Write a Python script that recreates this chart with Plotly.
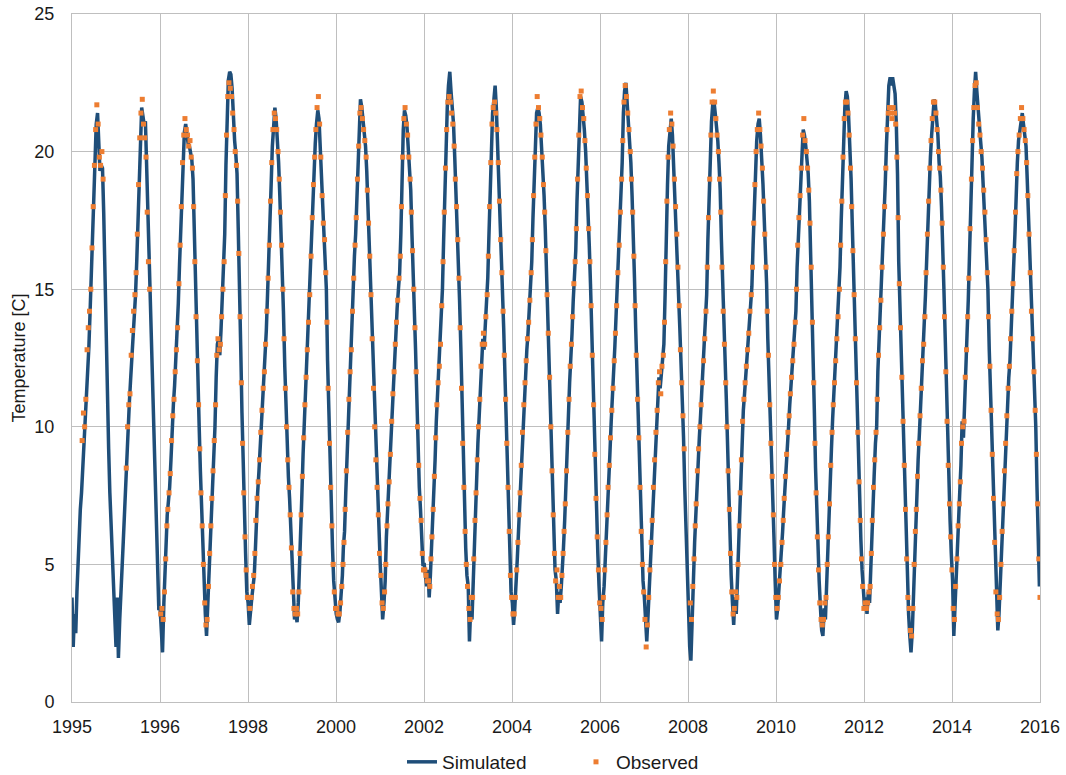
import datetime as dt
import plotly.graph_objects as go

# ---------------- data ----------------
years = list(range(1995, 2017))
sim_days = [1, 11, 21]   # three readings per month for the simulated series
obs_days = [6, 16, 26]   # three readings per month for the observed series

# Simulated temperature [C], 36 values per year (Jan 1, Jan 11, Jan 21, Feb 1, ...)
simulated = [
    # 1995
    3.8, 2.0, 3.2, 2.5, 4.0, 5.3, 6.2, 7.0, 7.6, 8.5, 9.4, 10.4,
    11.2, 12.0, 12.9, 14.3, 15.6, 17.0, 18.3, 19.8, 21.0, 21.4, 20.0, 19.3,
    19.5, 19.4, 17.8, 15.4, 13.2, 11.0, 9.2, 7.6, 6.5, 5.5, 4.2, 2.6,
    # 1996
    2.0, 3.8, 1.6, 3.0, 4.2, 5.0, 5.8, 6.8, 8.0, 9.2, 10.2, 10.9,
    11.7, 12.4, 13.2, 14.0, 14.8, 16.0, 17.6, 19.4, 20.6, 21.6, 21.3, 21.0,
    21.1, 19.5, 17.6, 15.8, 14.2, 12.3, 10.5, 9.2, 7.6, 6.0, 4.4, 3.4,
    # 1997
    3.4, 2.6, 1.8, 3.6, 5.0, 6.2, 6.8, 7.3, 7.8, 8.8, 10.0, 10.8,
    11.5, 12.3, 13.2, 14.5, 15.9, 17.3, 18.8, 20.2, 20.7, 21.0, 20.5, 20.3,
    20.2, 20.0, 19.7, 19.0, 17.0, 14.8, 13.3, 11.6, 10.0, 8.4, 7.0, 5.8,
    # 1998
    4.6, 3.2, 2.4, 3.5, 4.8, 5.9, 6.8, 7.8, 8.9, 10.0, 11.8, 13.0,
    13.2, 12.6, 13.5, 14.6, 15.4, 17.0, 19.5, 21.4, 22.6, 22.9, 22.8, 22.3,
    21.0, 20.4, 19.9, 19.2, 17.2, 15.5, 12.8, 10.5, 8.4, 6.8, 5.4, 4.0,
    # 1999
    3.6, 2.8, 3.4, 3.8, 4.2, 4.6, 5.4, 7.0, 7.6, 8.4, 9.2, 10.2,
    11.0, 11.7, 12.4, 13.5, 14.8, 15.9, 17.4, 18.8, 20.2, 21.1, 21.6, 21.2,
    20.4, 19.6, 18.4, 17.2, 15.8, 14.2, 12.2, 10.6, 9.4, 8.2, 7.4, 6.2,
    # 2000
    4.6, 3.6, 3.0, 3.2, 2.9, 3.6, 4.6, 6.0, 7.4, 9.0, 10.2, 11.4,
    12.3, 13.2, 14.2, 15.5, 16.9, 18.3, 19.4, 20.3, 21.0, 21.5, 21.2, 20.2,
    19.0, 17.6, 17.0, 16.3, 15.0, 12.4, 10.3, 8.6, 7.1, 5.6, 4.4, 3.6,
    # 2001
    3.2, 3.0, 2.9, 3.3, 3.8, 4.6, 5.6, 6.2, 7.6, 9.0, 10.4, 11.6,
    12.4, 13.5, 14.8, 16.2, 17.0, 18.3, 19.6, 20.8, 21.9, 21.6, 21.1, 20.6,
    20.2, 19.3, 18.0, 16.8, 15.6, 14.2, 12.2, 10.8, 9.4, 8.4, 7.4, 6.0,
    # 2002
    5.0, 4.0, 3.0, 3.6, 4.4, 6.0, 6.8, 7.6, 8.4, 9.6, 10.8, 11.6,
    12.5, 13.4, 14.3, 15.0, 15.6, 17.0, 19.0, 20.8, 21.5, 21.3, 20.9, 20.2,
    19.4, 18.6, 17.0, 15.8, 14.2, 12.8, 11.0, 9.2, 7.8, 7.0, 6.0, 5.0,
    # 2003
    5.0, 4.4, 4.2, 4.8, 3.8, 4.6, 5.4, 6.2, 7.3, 8.8, 10.2, 11.2,
    11.8, 12.5, 13.6, 15.0, 16.8, 18.6, 20.2, 21.6, 22.4, 22.9, 22.2, 21.6,
    21.0, 19.8, 18.6, 17.0, 16.2, 14.6, 12.8, 10.7, 8.8, 7.2, 5.6, 4.6,
    # 2004
    4.2, 2.2, 3.4, 3.0, 4.4, 6.0, 7.2, 8.2, 9.4, 10.4, 11.6, 12.6,
    13.2, 12.8, 13.6, 14.2, 15.4, 17.0, 18.8, 20.4, 21.4, 21.9, 22.4, 21.6,
    20.3, 18.9, 17.6, 16.0, 15.0, 13.6, 11.8, 10.2, 8.6, 7.0, 5.4, 4.0,
    # 2005
    3.6, 2.8, 3.4, 4.2, 5.2, 6.2, 7.0, 8.0, 9.2, 10.4, 11.3, 12.0,
    12.8, 13.4, 14.2, 15.0, 16.0, 17.6, 19.2, 20.4, 21.4, 21.6, 21.4, 21.0,
    20.2, 19.4, 18.4, 17.2, 15.6, 14.0, 12.6, 11.0, 9.0, 7.6, 6.0, 4.8,
    # 2006
    4.4, 3.2, 4.0, 3.6, 4.2, 4.8, 5.6, 6.6, 7.6, 9.0, 10.4, 11.6,
    12.4, 13.4, 14.6, 15.6, 16.4, 18.2, 19.8, 21.2, 22.0, 21.8, 21.4, 20.8,
    20.0, 19.0, 17.8, 16.6, 15.2, 13.4, 11.6, 9.8, 8.0, 6.6, 5.4, 4.2,
    # 2007
    3.4, 2.2, 3.6, 4.2, 5.2, 6.4, 7.4, 8.2, 9.0, 10.2, 11.0, 12.0,
    12.9, 14.0, 15.0, 16.2, 17.2, 18.4, 19.6, 21.4, 22.2, 22.5, 21.8, 21.2,
    20.4, 19.6, 18.4, 17.2, 15.4, 13.6, 11.8, 10.4, 8.6, 6.8, 5.4, 4.4,
    # 2008
    3.8, 2.6, 2.2, 3.2, 4.2, 5.2, 6.0, 7.2, 8.3, 9.4, 10.2, 11.0,
    11.8, 11.4, 12.0, 12.4, 13.0, 14.8, 17.2, 18.8, 20.2, 21.0, 21.2, 20.6,
    19.4, 18.5, 17.6, 16.4, 15.3, 13.6, 12.2, 11.2, 9.6, 7.8, 6.2, 4.8,
    # 2009
    3.4, 2.0, 1.5, 3.4, 4.6, 5.8, 6.6, 7.8, 8.7, 9.6, 10.4, 11.2,
    12.0, 12.8, 13.6, 14.8, 16.8, 18.4, 19.8, 21.1, 21.7, 21.8, 21.4, 21.0,
    20.4, 19.6, 18.6, 16.8, 15.0, 13.6, 12.4, 11.0, 9.2, 7.8, 6.2, 4.6,
    # 2010
    3.6, 2.8, 3.8, 3.2, 4.4, 5.8, 7.0, 8.2, 9.6, 10.6, 11.2, 11.8,
    12.4, 13.0, 13.8, 14.6, 15.1, 16.6, 18.2, 19.6, 20.4, 21.0, 21.2, 20.6,
    19.8, 18.8, 17.6, 16.6, 15.2, 13.2, 11.8, 10.0, 9.0, 7.6, 6.0, 4.4,
    # 2011
    3.0, 3.4, 4.0, 4.6, 5.4, 6.2, 6.9, 7.8, 8.5, 9.3, 10.0, 10.8,
    11.4, 12.0, 12.7, 13.3, 14.2, 15.8, 17.0, 17.9, 18.6, 19.9, 20.8, 20.6,
    20.2, 19.8, 19.2, 18.2, 16.5, 15.0, 12.8, 10.6, 8.5, 6.8, 5.4, 4.4,
    # 2012
    3.4, 2.6, 2.4, 3.4, 3.0, 4.4, 5.4, 6.3, 8.0, 9.2, 10.3, 11.2,
    12.0, 12.8, 13.6, 14.4, 15.8, 17.5, 19.2, 20.8, 21.6, 22.2, 22.0, 21.3,
    20.2, 19.0, 17.3, 15.6, 14.1, 12.5, 10.8, 9.0, 7.4, 5.9, 4.8, 3.8,
    # 2013
    3.4, 3.8, 3.2, 4.0, 3.6, 4.8, 6.0, 7.2, 8.2, 9.4, 10.0, 12.0,
    13.0, 14.0, 15.2, 16.4, 17.5, 18.8, 20.2, 21.6, 22.4, 22.7, 22.4, 22.7,
    22.4, 22.1, 21.0, 19.2, 16.0, 14.3, 12.8, 11.0, 9.4, 7.8, 6.0, 4.4,
    # 2014
    3.2, 2.4, 1.8, 2.6, 4.0, 5.6, 6.4, 7.4, 8.8, 9.8, 10.8, 11.8,
    12.6, 13.3, 14.8, 16.2, 17.6, 18.8, 19.8, 20.6, 21.3, 21.9, 21.7, 21.2,
    20.6, 19.6, 19.1, 18.0, 16.8, 15.0, 13.2, 11.2, 9.4, 7.8, 6.6, 5.4,
    # 2015
    4.4, 2.4, 3.6, 4.6, 5.8, 6.8, 7.6, 8.6, 10.2, 9.6, 11.2, 12.4,
    13.4, 14.6, 16.4, 18.4, 20.0, 21.2, 22.2, 22.9, 22.2, 21.4, 20.8, 20.4,
    19.8, 18.9, 18.2, 17.4, 16.4, 15.0, 12.8, 11.4, 9.8, 8.2, 6.8, 5.0,
    # 2016
    3.4, 2.6, 3.2, 4.4, 5.6, 6.9, 7.6, 9.0, 9.8, 10.9, 11.8, 12.4,
    13.8, 14.6, 15.8, 17.0, 18.6, 19.6, 20.4, 20.8, 21.2, 21.4, 21.0, 20.6,
    20.2, 19.0, 17.8, 16.4, 14.8, 13.8, 12.6, 11.4, 10.0, 7.8, 6.4, 4.2,
]

# Observed temperature [C], 36 values per year (Jan 6, Jan 16, Jan 26, Feb 6, ...); None = no measurement
observed = [
    # 1995
    None, None, None, None, None, None, None, None, 9.5, 10.5, 10.0, 11.0,
    12.8, 13.6, 14.2, 15.0, 16.5, 18.0, 19.5, 20.8, 21.7, 21.0, 19.8, 19.5,
    20.0, 19.0, None, None, None, None, None, None, None, None, None, None,
    # 1996
    None, None, None, None, None, None, None, None, 8.5, 10.0, 10.8, 11.2,
    12.6, 13.5, 14.2, 14.8, 15.6, 17.0, 18.8, 20.5, 21.4, 21.9, 21.0, 20.5,
    19.8, 17.8, 16.0, 15.0, None, None, None, None, None, None, None, None,
    # 1997
    3.2, 3.4, 3.0, 4.0, 5.2, 6.4, 7.0, 7.6, 8.3, 9.5, 10.4, 11.0,
    12.0, 12.8, 13.6, 15.2, 16.6, 18.0, 19.6, 20.6, 21.2, 20.8, 20.6, 20.2,
    20.4, 19.8, 19.4, 18.0, 16.0, 14.0, 12.4, 10.8, 9.2, 7.6, 6.4, 5.0,
    # 1998
    3.6, 2.8, 3.0, 4.2, 5.4, 6.4, 7.4, 8.4, 9.5, 10.8, 12.6, 13.2,
    12.8, 13.0, 14.0, 15.0, 16.0, 18.4, 20.6, 22.0, 22.5, 22.3, 22.0, 21.4,
    20.8, 20.0, 19.5, 18.2, 16.3, 14.0, 11.6, 9.4, 7.6, 6.0, 4.8, 3.8,
    # 1999
    3.8, 3.4, 3.8, 4.2, 4.6, 5.4, 6.6, 7.4, 8.0, 8.8, 9.8, 10.6,
    11.4, 12.0, 13.0, 14.2, 15.4, 16.6, 18.2, 19.6, 20.8, 21.4, 21.2, 20.8,
    20.0, 19.0, 17.8, 16.6, 15.0, 13.2, 11.4, 10.0, 8.8, 7.8, 6.8, 5.6,
    # 2000
    4.0, 3.4, 3.2, 3.4, 3.2, 4.0, 5.4, 6.8, 8.2, 9.6, 10.8, 11.8,
    12.8, 13.8, 14.8, 16.2, 17.6, 18.8, 19.8, 20.8, 21.6, 22.0, 21.0, 19.8,
    18.4, 17.4, 16.8, 15.6, 13.8, 11.4, 9.4, 7.8, 6.4, 5.0, 4.0, 3.4,
    # 2001
    3.4, 3.2, 3.2, 3.6, 4.2, 5.0, 5.8, 7.0, 8.4, 9.8, 11.0, 12.0,
    12.8, 14.2, 15.4, 16.6, 17.6, 19.0, 20.2, 21.4, 21.6, 21.2, 20.8, 20.4,
    19.8, 18.6, 17.4, 16.2, 14.8, 13.2, 11.4, 10.0, 8.8, 7.8, 6.8, 5.4,
    # 2002
    4.6, 3.6, 3.4, 4.0, 5.0, 6.4, 7.2, 8.0, 9.0, 10.2, 11.2, 12.0,
    13.0, 13.8, 14.6, 15.4, 16.2, 18.0, 19.8, 21.2, 21.6, 21.0, 20.6, 19.8,
    19.0, 17.8, 16.4, 15.0, 13.6, 12.0, 10.0, 8.6, 7.4, 6.6, 5.4, 4.8,
    # 2003
    4.8, 4.6, 4.4, 4.4, 4.2, 5.2, 6.0, 7.0, 8.2, 9.6, 10.8, 11.6,
    12.2, 13.0, 14.4, 16.0, 17.8, 19.4, 20.8, 21.8, 22.0, 21.8, 21.4, 21.0,
    20.2, 19.0, 18.0, 16.8, 15.4, 13.6, 11.4, 9.4, 7.8, 6.2, 5.0, 4.2,
    # 2004
    3.4, 3.0, 3.8, 3.8, 5.2, 6.6, 7.6, 8.8, 10.0, 11.0, 12.2, 13.0,
    13.4, 13.0, 14.0, 14.8, 16.2, 18.0, 19.6, 21.0, 21.6, 21.8, 21.4, 20.8,
    19.6, 18.2, 16.8, 15.6, 14.2, 12.6, 11.0, 9.4, 7.8, 6.2, 4.6, 3.8,
    # 2005
    3.2, 3.2, 3.8, 4.8, 5.8, 6.8, 7.6, 8.6, 9.8, 10.8, 11.6, 12.4,
    13.2, 13.8, 14.6, 15.6, 16.8, 18.4, 19.8, 21.0, 22.0, 21.6, 21.2, 20.6,
    19.8, 18.8, 17.8, 16.4, 14.8, 13.4, 11.8, 10.0, 8.4, 6.8, 5.4, 4.4,
    # 2006
    4.8, 3.8, 4.2, 3.8, 4.6, 5.4, 6.2, 7.2, 8.4, 9.8, 11.0, 12.2,
    13.0, 14.0, 15.2, 16.0, 17.2, 19.0, 20.6, 22.0, 22.2, 21.6, 21.2, 20.4,
    19.4, 18.4, 17.2, 16.0, 14.4, 12.6, 10.8, 9.0, 7.4, 6.0, 4.8, 3.6,
    # 2007
    3.4, 3.0, 3.8, 4.8, 5.8, 6.8, 7.8, 8.6, 9.6, 10.6, 11.4, 12.4,
    13.4, 14.4, 15.6, 16.6, 17.8, 19.0, 20.4, 21.8, 22.4, 22.0, 21.4, 20.8,
    20.0, 19.0, 17.8, 16.2, 14.4, 12.6, 11.0, 9.6, 7.8, 6.2, 5.0, 4.0,
    # 2008
    3.0, 2.0, 2.8, 3.8, 4.8, 5.8, 6.6, 7.8, 8.8, 9.8, 10.6, 11.6,
    12.0, 11.2, 12.2, 12.6, 13.8, 16.0, 18.2, 19.8, 20.8, 21.4, 21.0, 20.2,
    19.0, 18.0, 17.0, 15.8, 14.4, 12.8, 11.6, 10.4, 9.2, None, None, None,
    # 2009
    None, 3.6, 3.0, 4.2, 5.2, 6.4, 7.2, 8.4, 9.2, 10.0, 10.8, 11.6,
    12.4, 13.2, 14.2, 15.8, 17.6, 19.0, 20.6, 21.8, 22.2, 21.8, 21.2, 20.6,
    20.0, 19.0, 17.8, 15.8, 14.2, 13.0, 11.6, 10.0, 8.4, 7.0, 5.4, 4.0,
    # 2010
    3.2, 3.4, 4.0, 3.8, 5.0, 6.4, 7.6, 8.8, 10.2, 11.0, 11.6, 12.2,
    12.8, 13.4, 14.2, 14.8, 15.8, 17.4, 18.8, 20.0, 20.8, 21.4, 20.8, 20.2,
    19.4, 18.2, 17.0, 15.8, 14.2, 12.6, 10.8, 9.4, 8.2, 6.8, 5.0, 3.8,
    # 2011
    3.4, 3.8, 4.4, 5.0, 5.8, 6.6, 7.4, 8.2, 9.0, 9.8, 10.4, 11.2,
    11.8, 12.4, 13.0, 13.8, 15.0, 16.6, 17.6, 18.4, 19.4, 20.6, 21.2, 20.4,
    20.0, 19.4, 18.6, 17.4, 15.8, 13.8, 11.6, 9.4, 7.6, 6.0, 4.8, 3.6,
    # 2012
    3.0, 2.8, 3.0, 3.6, 3.8, 5.0, 6.0, 7.2, 8.6, 9.8, 10.8, 11.6,
    12.4, 13.2, 14.0, 15.0, 16.6, 18.2, 19.8, 21.2, 21.8, 21.8, 21.4, 20.6,
    19.4, 18.0, 16.4, 14.8, 13.2, 11.6, 9.8, 8.0, 6.6, 5.2, 4.2, 3.4,
    # 2013
    3.6, 3.4, 3.6, 4.0, 4.2, 5.4, 6.6, 7.8, 8.8, 9.8, 11.0, 12.6,
    13.6, 14.6, 15.8, 17.0, 18.0, 19.4, 20.8, 21.4, 21.6, 21.4, 21.2, 21.6,
    21.4, 21.0, 19.8, 17.6, 15.2, 13.6, 11.8, 10.2, 8.6, 7.0, 5.2, 3.8,
    # 2014
    3.4, 2.6, 2.4, 3.4, 5.0, 6.2, 7.0, 8.2, 9.4, 10.4, 11.4, 12.4,
    13.0, 14.0, 15.6, 17.0, 18.2, 19.4, 20.4, 21.2, 21.8, 21.8, 21.4, 20.8,
    20.0, 19.4, 18.6, 17.4, 15.8, 14.0, 12.0, 10.2, 8.6, 7.2, 6.0, 4.8,
    # 2015
    3.4, 3.0, 4.2, 5.2, 6.4, 7.2, 8.0, 9.4, 10.0, 10.2, 11.8, 12.8,
    14.0, 15.4, 17.2, 19.0, 20.4, 21.6, 22.4, 22.5, 21.6, 21.0, 20.6, 20.0,
    19.4, 18.6, 17.8, 16.8, 15.6, 14.0, 12.2, 10.6, 9.0, 7.4, 5.8, 4.0,
    # 2016
    3.2, 3.0, 3.8, 5.0, 6.2, 7.2, 8.4, 9.4, 10.4, 11.4, 12.2, 13.2,
    14.2, 15.2, 16.4, 17.8, 19.2, 20.0, 20.6, 21.2, 21.6, 21.2, 20.8, 20.4,
    19.6, 18.4, 17.0, 15.6, 14.2, 13.2, 12.0, 10.6, 9.0, 7.2, 5.2, 3.8,
]

x_tick_labels = ["1995", "1996", "1998", "2000", "2002", "2004",
                 "2006", "2008", "2010", "2012", "2014", "2016"]
y_tick_values = [0, 5, 10, 15, 20, 25]

# ---------------- figure ----------------
sim_dates = [f"{y}-{m:02d}-{d:02d}" for y in years for m in range(1, 13) for d in sim_days]
obs_dates = [f"{y}-{m:02d}-{d:02d}" for y in years for m in range(1, 13) for d in obs_days]

axis_start = dt.date(1995, 1, 1)
tick_dates = [(axis_start + dt.timedelta(days=730 * k)).isoformat() for k in range(len(x_tick_labels))]

FONT = "Liberation Sans, Arial, sans-serif"
GRID = "#bfbfbf"

fig = go.Figure()
fig.add_trace(go.Scatter(
    x=sim_dates, y=simulated, name="Simulated", mode="lines",
    line=dict(color="#1f4e79", width=3.5),
))
fig.add_trace(go.Scatter(
    x=obs_dates, y=observed, name="Observed", mode="markers",
    marker=dict(color="#ed7d31", size=5, symbol="square", line=dict(width=0)),
))

fig.update_layout(
    width=1066, height=775,
    margin=dict(l=72, r=26, t=14, b=73),
    paper_bgcolor="white", plot_bgcolor="white",
    font=dict(family=FONT, size=18, color="#1a1a1a"),
    showlegend=True,
    legend=dict(orientation="h", xref="paper", x=0.3409, xanchor="left",
                yref="container", y=0.0168, yanchor="middle",
                font=dict(size=19), itemwidth=30, traceorder="normal",
                entrywidth=129, entrywidthmode="pixels"),
)
fig.update_xaxes(
    type="date", range=[tick_dates[0], tick_dates[-1]],
    tickmode="array", tickvals=tick_dates, ticktext=x_tick_labels,
    showgrid=True, gridcolor=GRID, gridwidth=1,
    showline=True, linecolor=GRID, linewidth=1, mirror=True,
    ticks="", ticklabelstandoff=8, tickfont=dict(size=18),
    ticklabeloverflow="allow",
    zeroline=False, automargin=False,
)
fig.update_yaxes(
    range=[0, 25], tickmode="array", tickvals=y_tick_values,
    showgrid=True, gridcolor=GRID, gridwidth=1,
    showline=True, linecolor=GRID, linewidth=1, mirror=True,
    ticks="", ticklabelstandoff=13, tickfont=dict(size=18),
    ticklabeloverflow="allow",
    title=dict(text="Temperature [C]", font=dict(size=18), standoff=4),
    zeroline=False, automargin=False,
)

# remove the page's default 8 px body margin so the figure sits at the window origin
fig.write_html("out.html", config={"displayModeBar": False},
               post_script="document.body.style.margin='0';")
